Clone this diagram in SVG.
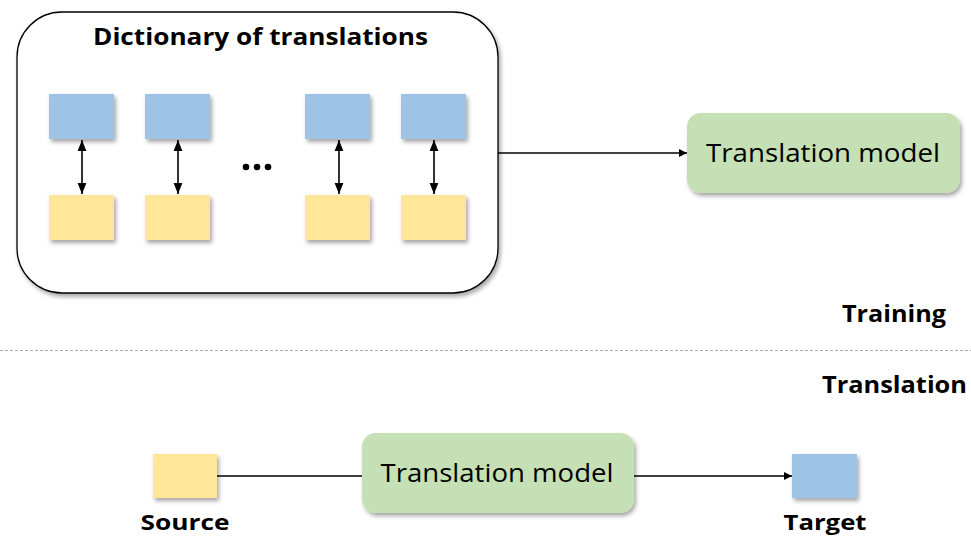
<svg xmlns="http://www.w3.org/2000/svg" width="971" height="538" viewBox="0 0 971 538">
<defs>
<filter id="sh" x="-20%" y="-20%" width="150%" height="150%">
<feDropShadow dx="2" dy="3" stdDeviation="2" flood-color="#000" flood-opacity="0.35"/>
</filter>
<marker id="ah" viewBox="0 0 10 10" refX="10" refY="5" markerWidth="8" markerHeight="8" markerUnits="userSpaceOnUse" orient="auto-start-reverse">
<path d="M0,0 L10,5 L0,10 z" fill="#000"/>
</marker>
<marker id="ah2" viewBox="0 0 10 10" refX="10" refY="5" markerWidth="11" markerHeight="11" markerUnits="userSpaceOnUse" orient="auto-start-reverse">
<path d="M0,1 L10,5 L0,9 z" fill="#000"/>
</marker>
</defs>
<style>
.blue{fill:#9dc3e6;filter:url(#sh)}
.yel{fill:#ffe699;filter:url(#sh)}
.green{fill:#c5e0b4;filter:url(#sh)}
.t{font-family:"Open Sans","Liberation Sans",sans-serif;fill:#000}
.b{font-weight:bold}
.ln{stroke:#000;stroke-width:1.3;fill:none}
.pair{stroke:#000;stroke-width:1.6;fill:none}
</style>
<rect width="971" height="538" fill="#fff"/>
<g id="dictionary">
<rect x="17" y="12" width="481" height="281" rx="45" ry="45" fill="#fff" stroke="#000" stroke-width="1.3" filter="url(#sh)"/>
<text class="t b" x="260.5" y="45" font-size="24" text-anchor="middle" textLength="335" lengthAdjust="spacingAndGlyphs">Dictionary of translations</text>
<rect class="blue" x="49" y="94" width="65" height="45"/>
<rect class="blue" x="145" y="94" width="65" height="45"/>
<rect class="blue" x="305" y="94" width="65" height="45"/>
<rect class="blue" x="401" y="94" width="65" height="45"/>
<rect class="yel" x="49" y="195" width="65" height="45"/>
<rect class="yel" x="145" y="195" width="65" height="45"/>
<rect class="yel" x="305" y="195" width="65" height="45"/>
<rect class="yel" x="401" y="195" width="65" height="45"/>
<circle cx="246" cy="167" r="3.3" fill="#000"/>
<circle cx="257" cy="167" r="3.3" fill="#000"/>
<circle cx="268" cy="167" r="3.3" fill="#000"/>
</g>
<g id="model-train">
<rect class="green" x="687" y="113" width="273" height="80" rx="14" ry="14"/>
<text class="t" x="823" y="162" font-size="25" text-anchor="middle" textLength="234" lengthAdjust="spacingAndGlyphs">Translation model</text>
</g>
<g id="labels">
<text class="t b" x="946" y="322" font-size="23" text-anchor="end" textLength="104" lengthAdjust="spacingAndGlyphs">Training</text>
<line x1="0" y1="350.5" x2="971" y2="350.5" stroke="#aaa" stroke-width="1" stroke-dasharray="3,2"/>
<text class="t b" x="967" y="393" font-size="23" text-anchor="end" textLength="145" lengthAdjust="spacingAndGlyphs">Translation</text>
</g>
<g id="source">
<rect class="yel" x="153" y="454" width="64" height="44"/>
<text class="t b" x="185" y="530" font-size="22" text-anchor="middle" textLength="89" lengthAdjust="spacingAndGlyphs">Source</text>
</g>
<g id="model-translate">
<rect class="green" x="362" y="433" width="272" height="80" rx="14" ry="14"/>
<text class="t" x="497" y="482" font-size="25" text-anchor="middle" textLength="233" lengthAdjust="spacingAndGlyphs">Translation model</text>
</g>
<g id="target">
<rect class="blue" x="792" y="454" width="65" height="44"/>
<text class="t b" x="825" y="530" font-size="22" text-anchor="middle" textLength="83" lengthAdjust="spacingAndGlyphs">Target</text>
</g>
<g id="connectors">
<line class="pair" x1="82" y1="140" x2="82" y2="194" marker-start="url(#ah2)" marker-end="url(#ah2)"/>
<line class="pair" x1="178" y1="140" x2="178" y2="194" marker-start="url(#ah2)" marker-end="url(#ah2)"/>
<line class="pair" x1="339" y1="140" x2="339" y2="194" marker-start="url(#ah2)" marker-end="url(#ah2)"/>
<line class="pair" x1="434" y1="140" x2="434" y2="194" marker-start="url(#ah2)" marker-end="url(#ah2)"/>
<line class="ln" x1="498" y1="153" x2="687" y2="153" marker-end="url(#ah)"/>
<line class="ln" x1="217" y1="476" x2="362" y2="476"/>
<line class="ln" x1="634" y1="476" x2="792" y2="476" marker-end="url(#ah)"/>
</g>
</svg>
